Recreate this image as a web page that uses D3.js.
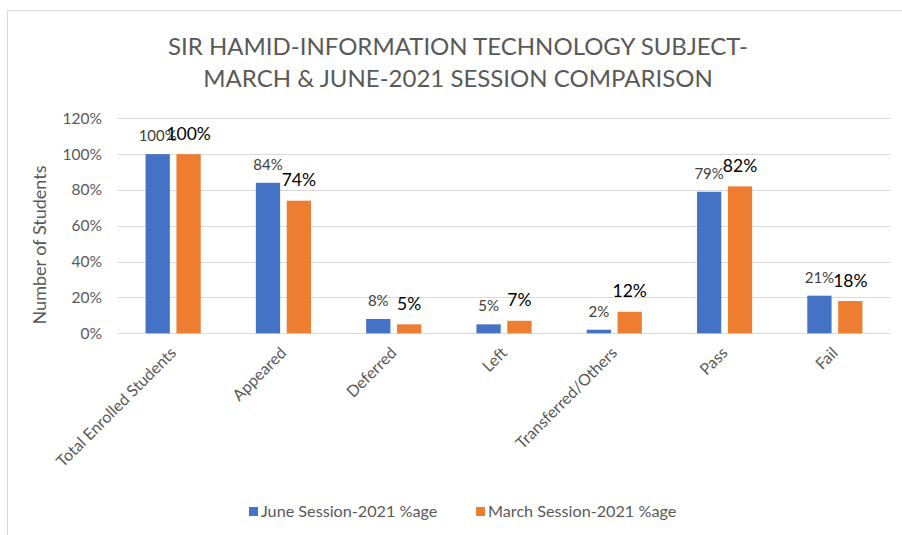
<!DOCTYPE html>
<html><head><meta charset="utf-8">
<script src="https://cdn.jsdelivr.net/npm/d3@7"></script>
<style>
html,body{margin:0;padding:0;background:#fff;}
svg{display:block;font-family:Lato, "Open Sans", sans-serif;}
</style></head>
<body>
<svg id="c" width="902" height="535"></svg>
<script>
const categories = ["Total Enrolled Students","Appeared","Deferred","Left","Transferred/Others","Pass","Fail"];
const juneValues = [100, 84, 8, 5, 2, 79, 21];
const marchValues = [100, 74, 5, 7, 12, 82, 18];
const seriesNames = ["June Session-2021 %age","March Session-2021 %age"];
const seriesColors = ["#4472C4","#ED7D31"];
const yTicks = [0,20,40,60,80,100,120];
const titleLines = ["SIR HAMID-INFORMATION TECHNOLOGY SUBJECT-","MARCH & JUNE-2021 SESSION COMPARISON"];
const yAxisTitle = "Number of Students";

(function(){
const svg = d3.select("#c");
// chart border
svg.append("rect").attr("x",7.5).attr("y",10.5).attr("width",920).attr("height",560)
  .attr("fill","#fff").attr("stroke","#d9d9d9").attr("stroke-width",1);

const pL=118, pR=890, pT=118.3, pB=333.3;
const x = d3.scaleBand().domain(categories).range([pL,pR]).paddingInner(0).paddingOuter(0);
const y = d3.scaleLinear().domain([0,120]).range([pB,pT]);
const barW = x.bandwidth()*0.22, gap = x.bandwidth()*0.06;
const xs = d3.scaleOrdinal().domain([0,1]).range([-gap/2-barW, gap/2]);

// gridlines
svg.append("g").selectAll("line").data(yTicks).join("line")
  .attr("x1",pL).attr("x2",pR)
  .attr("y1",d=>Math.round(y(d))+0.5).attr("y2",d=>Math.round(y(d))+0.5)
  .attr("stroke","#d9d9d9").attr("stroke-width",1);

// y tick labels
svg.append("g").selectAll("text").data(yTicks).join("text")
  .attr("x",102).attr("y",d=>y(d)).attr("dy","0.35em")
  .attr("text-anchor","end").attr("font-size",15.5).attr("fill","#595959")
  .text(d=>d+"%");

const series = [juneValues, marchValues];
series.forEach((vals,si)=>{
  const g = svg.append("g");
  g.selectAll("rect").data(vals).join("rect")
    .attr("x",(d,i)=>x(categories[i])+x.bandwidth()/2+xs(si))
    .attr("width",barW)
    .attr("y",d=>y(d)).attr("height",d=>y(0)-y(d))
    .attr("fill",seriesColors[si]);
  g.selectAll("text").data(vals).join("text")
    .attr("x",(d,i)=>x(categories[i])+x.bandwidth()/2+xs(si)+barW/2)
    .attr("y",d=>y(d)-(si===0?13:14.5))
    .attr("text-anchor","middle")
    .attr("font-size",si===0?15:17.5)
    .attr("fill",si===0?"#404040":"#000")
    .text(d=>d+"%");
});

// x labels
svg.append("g").selectAll("text").data(categories).join("text")
  .attr("transform",d=>`translate(${x(d)+x.bandwidth()/2},${350}) rotate(-45)`)
  .attr("text-anchor","end").attr("dy","0.35em")
  .attr("font-size",16).attr("fill","#595959")
  .text(d=>d);

// y axis title
svg.append("text").attr("transform",`translate(46,245) rotate(-90)`)
  .attr("text-anchor","middle").attr("font-size",18).attr("fill","#595959")
  .text(yAxisTitle);

// title
svg.append("g").selectAll("text").data(titleLines).join("text")
  .attr("x",458).attr("y",(d,i)=>55+i*32)
  .attr("text-anchor","middle").attr("font-size",24).attr("fill","#595959")
  .text(d=>d);

// legend
const legX=[249,476];
const lg = svg.append("g").selectAll("g").data(seriesNames).join("g")
  .attr("transform",(d,i)=>`translate(${legX[i]},507)`);
lg.append("rect").attr("width",9).attr("height",9).attr("fill",(d,i)=>seriesColors[i]);
lg.append("text").attr("x",12).attr("y",4.5).attr("dy","0.35em")
  .attr("font-size",16.2).attr("fill","#595959").text(d=>d);
})();
</script>
</body></html>
